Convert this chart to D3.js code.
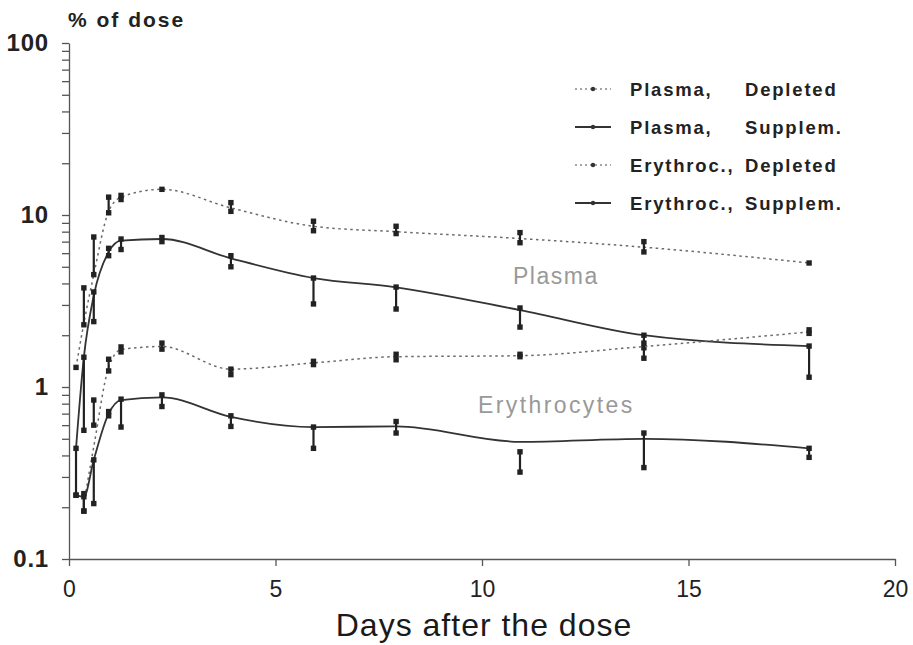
<!DOCTYPE html>
<html>
<head>
<meta charset="utf-8">
<script src="https://cdn.jsdelivr.net/npm/d3@7/dist/d3.min.js"></script>
<style>
  body { margin: 0; background: #fff; }
  svg text { font-family: "Liberation Sans", Arial, sans-serif; }
</style>
</head>
<body>
<script>
// sampling times (days after the dose)
var days = [0.17, 0.36, 0.6, 0.96, 1.26, 2.25, 3.92, 5.92, 7.92, 10.92, 13.92, 17.92];

// % of dose, curve value + error bar ends
var plasmaDepleted   = [1.3, 2.35, 4.5, 10.5, 12.7, 14.1, 11.0, 8.6, 8.0, 7.3, 6.5, 5.26];
var plasmaDepletedLo = [1.3, 2.3, 4.5, 10.3, 12.3, 14.1, 10.5, 8.1, 7.8, 6.9, 6.1, 5.26];
var plasmaDepletedHi = [1.3, 3.77, 7.45, 12.7, 13.0, 14.1, 11.8, 9.2, 8.6, 7.9, 7.0, 5.26];

var plasmaSupplem   = [0.44, 1.49, 3.4, 6.1, 7.1, 7.25, 5.6, 4.3, 3.8, 2.8, 2.0, 1.73];
var plasmaSupplemLo = [0.235, 0.56, 2.4, 5.8, 6.3, 7.0, 5.0, 3.04, 2.84, 2.23, 1.69, 1.14];
var plasmaSupplemHi = [0.44, 1.49, 3.57, 6.4, 7.25, 7.4, 5.8, 4.3, 3.81, 2.88, 2.0, 1.73];

var erythDepleted   = [null, 0.21, 0.45, 1.3, 1.65, 1.72, 1.27, 1.38, 1.5, 1.52, 1.72, 2.09];
var erythDepletedLo = [null, 0.19, 0.6, 1.24, 1.6, 1.66, 1.18, 1.35, 1.44, 1.5, 1.47, 2.05];
var erythDepletedHi = [null, 0.24, 0.84, 1.45, 1.71, 1.8, 1.27, 1.41, 1.55, 1.55, 1.8, 2.15];

var erythSupplem   = [0.235, 0.23, 0.377, 0.70, 0.84, 0.87, 0.67, 0.585, 0.59, 0.48, 0.50, 0.44];
var erythSupplemLo = [0.235, 0.19, 0.21, 0.68, 0.585, 0.77, 0.59, 0.44, 0.54, 0.32, 0.34, 0.39];
var erythSupplemHi = [0.235, 0.23, 0.377, 0.72, 0.85, 0.9, 0.68, 0.585, 0.63, 0.42, 0.54, 0.44];

// legend text, two columns
var legendFirst  = ["Plasma,", "Plasma,", "Erythroc.,", "Erythroc.,"];
var legendSecond = ["Depleted", "Supplem.", "Depleted", "Supplem."];

var yMajor = [0.1, 1, 10, 100];
var yMajorLabels = ["0.1", "1", "10", "100"];
var xTicks = [0, 5, 10, 15, 20];

var width = 913, height = 645;

var svg = d3.select("body").append("svg")
    .attr("width", width)
    .attr("height", height);

var x = d3.scaleLinear().domain([0, 20]).range([69, 895]);
var y = d3.scaleLog().domain([0.1, 100]).range([559, 43]);

// minor ticks 1..9 in every decade
var yTicks = [];
[0.1, 1, 10].forEach(function(dec) {
    for (var k = 1; k <= 9; k++) yTicks.push(k * dec);
});
yTicks.push(100);

var gy = svg.append("g")
    .attr("transform", "translate(" + x(0) + ",0)")
    .call(d3.axisLeft(y)
        .tickValues(yTicks)
        .tickSize(7)
        .tickSizeOuter(0)
        .tickPadding(13)
        .tickFormat(function(d) {
            var i = yMajor.indexOf(d);
            return i >= 0 ? yMajorLabels[i] : "";
        }));
gy.selectAll("text")
    .attr("font-size", 24)
    .attr("font-weight", "bold")
    .attr("letter-spacing", 0.8)
    .attr("fill", "#222");

var gx = svg.append("g")
    .attr("transform", "translate(0," + y(0.1) + ")")
    .call(d3.axisBottom(x)
        .tickValues(xTicks)
        .tickSize(7)
        .tickSizeOuter(0)
        .tickPadding(15));
gx.selectAll("text")
    .attr("font-size", 23)
    .attr("fill", "#222");

svg.selectAll(".domain, .tick line")
    .attr("stroke", "#555")
    .attr("stroke-width", 1.3);

// axis titles
svg.append("text")
    .attr("x", 68)
    .attr("y", 27)
    .attr("font-size", 21)
    .attr("font-weight", "bold")
    .attr("letter-spacing", 2)
    .attr("fill", "#222")
    .text("% of dose");

svg.append("text")
    .attr("x", 484)
    .attr("y", 636)
    .attr("text-anchor", "middle")
    .attr("font-size", 32)
    .attr("letter-spacing", 1)
    .attr("fill", "#1a1a1a")
    .text("Days after the dose");

// region labels
svg.append("text")
    .attr("x", 513).attr("y", 284)
    .attr("font-size", 23)
    .attr("letter-spacing", 1.5)
    .attr("fill", "#999")
    .text("Plasma");

svg.append("text")
    .attr("x", 478).attr("y", 413)
    .attr("font-size", 23)
    .attr("letter-spacing", 2.4)
    .attr("fill", "#999")
    .text("Erythrocytes");

var series = [
    {mean: plasmaDepleted, lo: plasmaDepletedLo, hi: plasmaDepletedHi, dotted: true},
    {mean: plasmaSupplem,  lo: plasmaSupplemLo,  hi: plasmaSupplemHi,  dotted: false},
    {mean: erythDepleted,  lo: erythDepletedLo,  hi: erythDepletedHi,  dotted: true},
    {mean: erythSupplem,   lo: erythSupplemLo,   hi: erythSupplemHi,   dotted: false}
];

var line = d3.line()
    .x(function(d) { return x(d.day); })
    .y(function(d) { return y(d.v); })
    .curve(d3.curveMonotoneX);

series.forEach(function(s) {
    var rows = days.map(function(d, i) {
        return {day: d, v: s.mean[i], lo: s.lo[i], hi: s.hi[i]};
    }).filter(function(r) { return r.v != null; });

    svg.append("path")
        .datum(rows)
        .attr("fill", "none")
        .attr("stroke", s.dotted ? "#6a6a6a" : "#333")
        .attr("stroke-width", s.dotted ? 1.5 : 1.8)
        .attr("stroke-dasharray", s.dotted ? "2.5,3.5" : null)
        .attr("d", line);

    var g = svg.append("g");
    // error bars
    g.selectAll("line")
        .data(rows.filter(function(r) { return r.lo !== r.hi; }))
        .enter().append("line")
        .attr("x1", function(r) { return x(r.day); })
        .attr("x2", function(r) { return x(r.day); })
        .attr("y1", function(r) { return y(r.lo); })
        .attr("y2", function(r) { return y(r.hi); })
        .attr("stroke", "#222")
        .attr("stroke-width", 2.2);

    // square markers at bar ends
    var ends = [];
    rows.forEach(function(r) {
        ends.push({day: r.day, v: r.lo});
        if (r.hi !== r.lo) ends.push({day: r.day, v: r.hi});
    });
    g.selectAll("rect")
        .data(ends)
        .enter().append("rect")
        .attr("x", function(d) { return x(d.day) - 2.7; })
        .attr("y", function(d) { return y(d.v) - 2.7; })
        .attr("width", 5.4)
        .attr("height", 5.4)
        .attr("fill", "#222");
});

// legend
var legend = svg.append("g");
series.forEach(function(s, i) {
    var ly = 89 + i * 38;
    legend.append("line")
        .attr("x1", 575).attr("x2", 611)
        .attr("y1", ly).attr("y2", ly)
        .attr("stroke", s.dotted ? "#888" : "#333")
        .attr("stroke-width", s.dotted ? 1.4 : 1.8)
        .attr("stroke-dasharray", s.dotted ? "2,3" : null);
    legend.append("circle")
        .attr("cx", 593).attr("cy", ly)
        .attr("r", 2.2)
        .attr("fill", "#333");
    legend.append("text")
        .attr("x", 630).attr("y", ly + 7)
        .attr("font-size", 18.5)
        .attr("font-weight", "bold")
        .attr("letter-spacing", 1.8)
        .attr("fill", "#222")
        .text(legendFirst[i]);
    legend.append("text")
        .attr("x", 745).attr("y", ly + 7)
        .attr("font-size", 18.5)
        .attr("font-weight", "bold")
        .attr("letter-spacing", 1.8)
        .attr("fill", "#222")
        .text(legendSecond[i]);
});
</script>
</body>
</html>
